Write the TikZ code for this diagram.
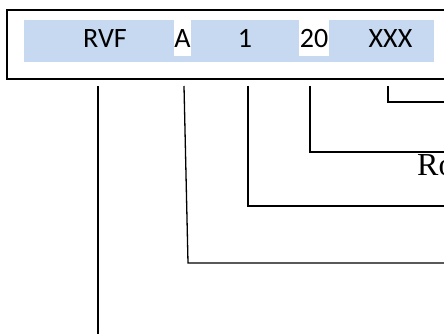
\documentclass[tikz,border=0pt]{standalone}
\usepackage{fontspec}
\setmainfont{Liberation Serif}
\newfontfamily\calib{Carlito}
\definecolor{bandblue}{HTML}{C6D9F0}
\begin{document}
\begin{tikzpicture}[x=1pt,y=-1pt,
  lbl/.style={font=\calib\fontsize{28}{30}\selectfont, anchor=base, inner sep=0pt},
  conn/.style={draw=black, line width=1.3pt},
  frame/.style={draw=black, line width=1.8pt}]
\useasboundingbox (0,0) rectangle (444,334);
\clip (0,0) rectangle (444,334);
% outer frame and band
\draw[frame] (7,10) rectangle (470,79);
\fill[bandblue] (24,20) rectangle (434,62);
\fill[white] (174,20) rectangle (191,56);
\fill[white] (299,20) rectangle (329,56);
% labels
\node[lbl] (rvf) at (105,48) {RVF};
\node[lbl] (a) at (182.5,48) {A};
\node[lbl] (one) at (245,48) {1};
\node[lbl] (twenty) at (314,48) {20};
\node[lbl] (xxx) at (390.5,48) {XXX};
% connector start points
\coordinate (s1) at (98,86);
\coordinate (s2) at (184,86);
\coordinate (s3) at (248,86);
\coordinate (s4) at (310,86);
\coordinate (s5) at (388,86);
\coordinate (e1) at (98,334);
\coordinate (k2) at (188,263);
\coordinate (e2) at (460,263);
\coordinate (e3) at (460,206);
\coordinate (e4) at (460,152);
\coordinate (e5) at (460,102);
\draw[conn] (s1) -- (e1);
\draw[conn] (s2) -- (k2) -- (e2);
\draw[conn] (s3) |- (e3);
\draw[conn] (s4) |- (e4);
\draw[conn] (s5) |- (e5);
% cut-off text
\node[font=\fontsize{32}{34}\selectfont, anchor=base west, inner sep=0pt] (ro) at (417,175) {Ro};
\end{tikzpicture}
\end{document}
